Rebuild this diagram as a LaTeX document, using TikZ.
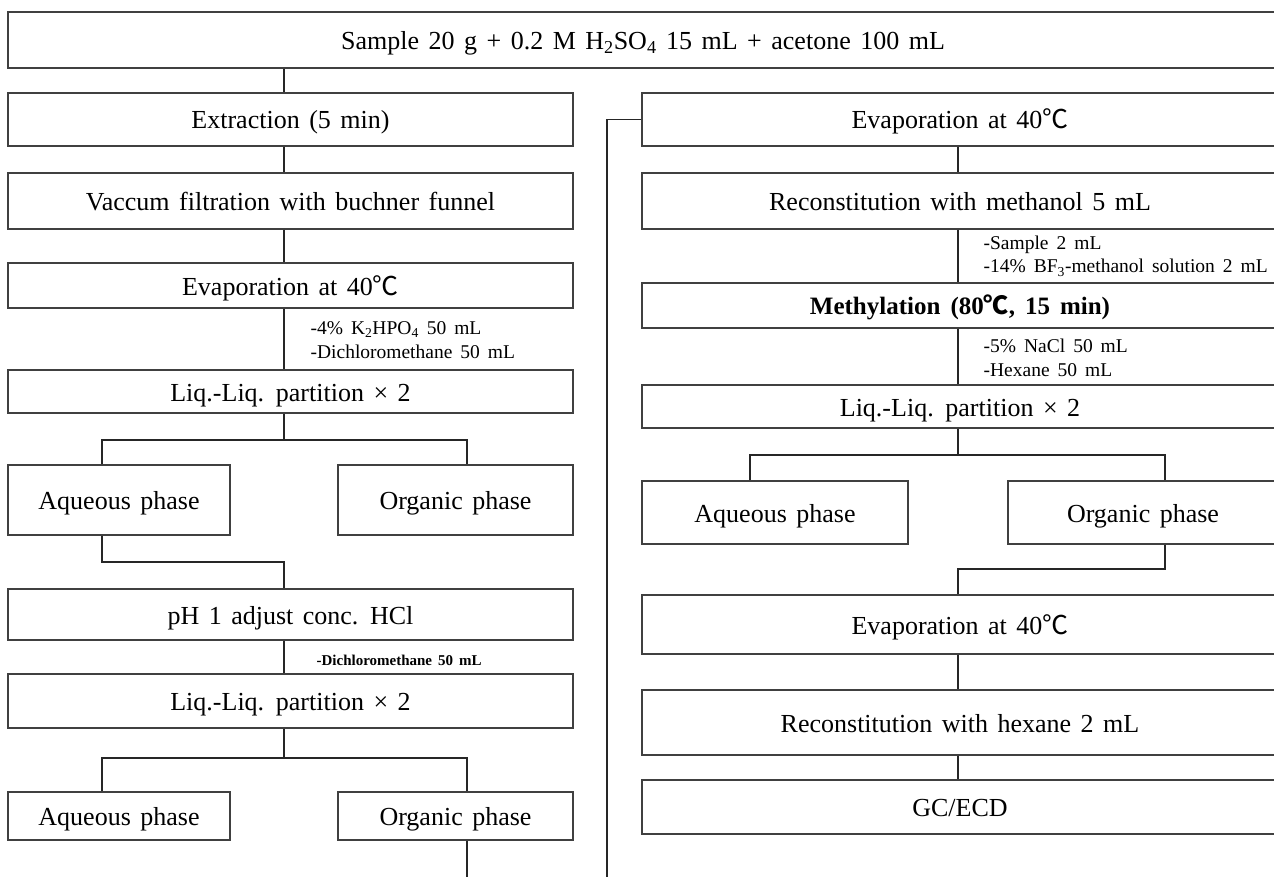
\documentclass[tikz,border=0pt]{standalone}
\usepackage{fontspec}
\setmainfont{Liberation Serif}
\newfontfamily\cjk{Noto Sans CJK KR}
\usetikzlibrary{calc}
\newcommand{\degc}{{\cjk ℃}}
\newcommand{\wordgap}[1]{\spaceskip=#1\relax}
\tikzstyle{every node}=[font=\fontsize{26}{30}\selectfont\wordgap{9.5pt}]
\tikzstyle{every path}=[line width=1.2pt,line join=miter]

\begin{document}
\begin{tikzpicture}[x=1pt,y=-1pt]
		\tikzstyle{box} = [draw=black!75,rectangle,inner sep=0pt,text height=21pt,text depth=2pt]
		\tikzstyle{link} = [draw=black!85]
		\tikzstyle{note} = [anchor=west,align=left,inner sep=0pt,font=\fontsize{19.5}{23.5}\selectfont\wordgap{8pt}]
		\useasboundingbox (0,0) rectangle (1274,877);
		
		% left column
		\node[box,minimum width=1270pt,minimum height=56pt] (sample) at (643,40) {Sample 20 g + 0.2 M H\textsubscript{2}SO\textsubscript{4} 15 mL + acetone 100 mL};
		\node[box,minimum width=565pt,minimum height=53pt] (extract) at (290.5,119.5) {Extraction (5 min)};
		\node[box,minimum width=565pt,minimum height=56pt] (vacuum) at (290.5,201) {Vaccum filtration with buchner funnel};
		\node[box,minimum width=565pt,minimum height=45pt] (evapA) at (290.5,285.5) {Evaporation at 40\degc};
		\node[box,minimum width=565pt,minimum height=43pt] (liqA) at (290.5,391.5) {Liq.-Liq. partition × 2};
		\node[box,minimum width=222pt,minimum height=70pt] (aqA) at (119,500) {Aqueous phase};
		\node[box,minimum width=235pt,minimum height=70pt] (orgA) at (455.5,500) {Organic phase};
		\node[box,minimum width=565pt,minimum height=51pt] (phadj) at (290.5,614.5) {pH 1 adjust conc. HCl};
		\node[box,minimum width=565pt,minimum height=54pt] (liqB) at (290.5,701) {Liq.-Liq. partition × 2};
		\node[box,minimum width=222pt,minimum height=48pt] (aqB) at (119,816) {Aqueous phase};
		\node[box,minimum width=235pt,minimum height=48pt] (orgB) at (455.5,816) {Organic phase};
		
		\node[note] (addA) at (310,340) {-4\% K\textsubscript{2}HPO\textsubscript{4} 50 mL\\-Dichloromethane 50 mL};
		\node[note,font=\fontsize{15}{18}\selectfont\bfseries\wordgap{6pt}] (addB) at (316,660) {-Dichloromethane 50 mL};
		
		% right column
		\node[box,minimum width=636pt,minimum height=53pt] (evapR) at (960,119.5) {Evaporation at 40\degc};
		\node[box,minimum width=636pt,minimum height=56pt] (reconM) at (960,201) {Reconstitution with methanol 5 mL};
		\node[box,minimum width=636pt,minimum height=45pt,font=\fontsize{25}{30}\selectfont\bfseries\wordgap{10pt}] (methyl) at (960,305.5) {Methylation (80\degc, 15 min)};
		\node[box,minimum width=636pt,minimum height=43pt] (liqC) at (960,406.5) {Liq.-Liq. partition × 2};
		\node[box,minimum width=266pt,minimum height=63pt] (aqC) at (775,512.5) {Aqueous phase};
		\node[box,minimum width=270pt,minimum height=63pt] (orgC) at (1143,512.5) {Organic phase};
		\node[box,minimum width=636pt,minimum height=59pt] (evapS) at (960,624.5) {Evaporation at 40\degc};
		\node[box,minimum width=636pt,minimum height=65pt] (reconH) at (960,722.5) {Reconstitution with hexane 2 mL};
		\node[box,minimum width=636pt,minimum height=54pt] (gcecd) at (960,807) {GC/ECD};
		
		\node[note] (addC) at (983,256) {-Sample 2 mL\\-14\% BF\textsubscript{3}-methanol solution 2 mL};
		\node[note] (addD) at (983,358) {-5\% NaCl 50 mL\\-Hexane 50 mL};
		
		% connector guides
		\coordinate (ls) at (284,0);
		\coordinate (la) at (102,0);
		\coordinate (lo) at (467,0);
		\coordinate (rs) at (958,0);
		\coordinate (ra) at (750,0);
		\coordinate (ro) at (1165,0);
		\coordinate (brA) at (284,440);
		\coordinate (turnA) at (284,562);
		\coordinate (brB) at (284,758);
		\coordinate (brC) at (958,455);
		\coordinate (turnC) at (958,569);
		\coordinate (loop) at (607,880);
		
		\draw[link] (sample.south -| ls) -- (extract.north -| ls);
		\draw[link] (extract.south -| ls) -- (vacuum.north -| ls);
		\draw[link] (vacuum.south -| ls) -- (evapA.north -| ls);
		\draw[link] (evapA.south -| ls) -- (liqA.north -| ls);
		\draw[link] (liqA.south -| ls) -- (brA);
		\draw[link] (aqA.north -| la) |- (brA) -| (orgA.north -| lo);
		\draw[link] (aqA.south -| la) |- (turnA) -- (phadj.north -| ls);
		\draw[link] (phadj.south -| ls) -- (liqB.north -| ls);
		\draw[link] (liqB.south -| ls) -- (brB);
		\draw[link] (aqB.north -| la) |- (brB) -| (orgB.north -| lo);
		\draw[link] (orgB.south -| lo) -- (lo |- loop);
		\draw[link] (evapR.west) -| (loop);
		
		\draw[link] (evapR.south -| rs) -- (reconM.north -| rs);
		\draw[link] (reconM.south -| rs) -- (methyl.north -| rs);
		\draw[link] (methyl.south -| rs) -- (liqC.north -| rs);
		\draw[link] (liqC.south -| rs) -- (brC);
		\draw[link] (aqC.north -| ra) |- (brC) -| (orgC.north -| ro);
		\draw[link] (orgC.south -| ro) |- (turnC) -- (evapS.north -| rs);
		\draw[link] (evapS.south -| rs) -- (reconH.north -| rs);
		\draw[link] (reconH.south -| rs) -- (gcecd.north -| rs);
		
	\end{tikzpicture}
\end{document}
